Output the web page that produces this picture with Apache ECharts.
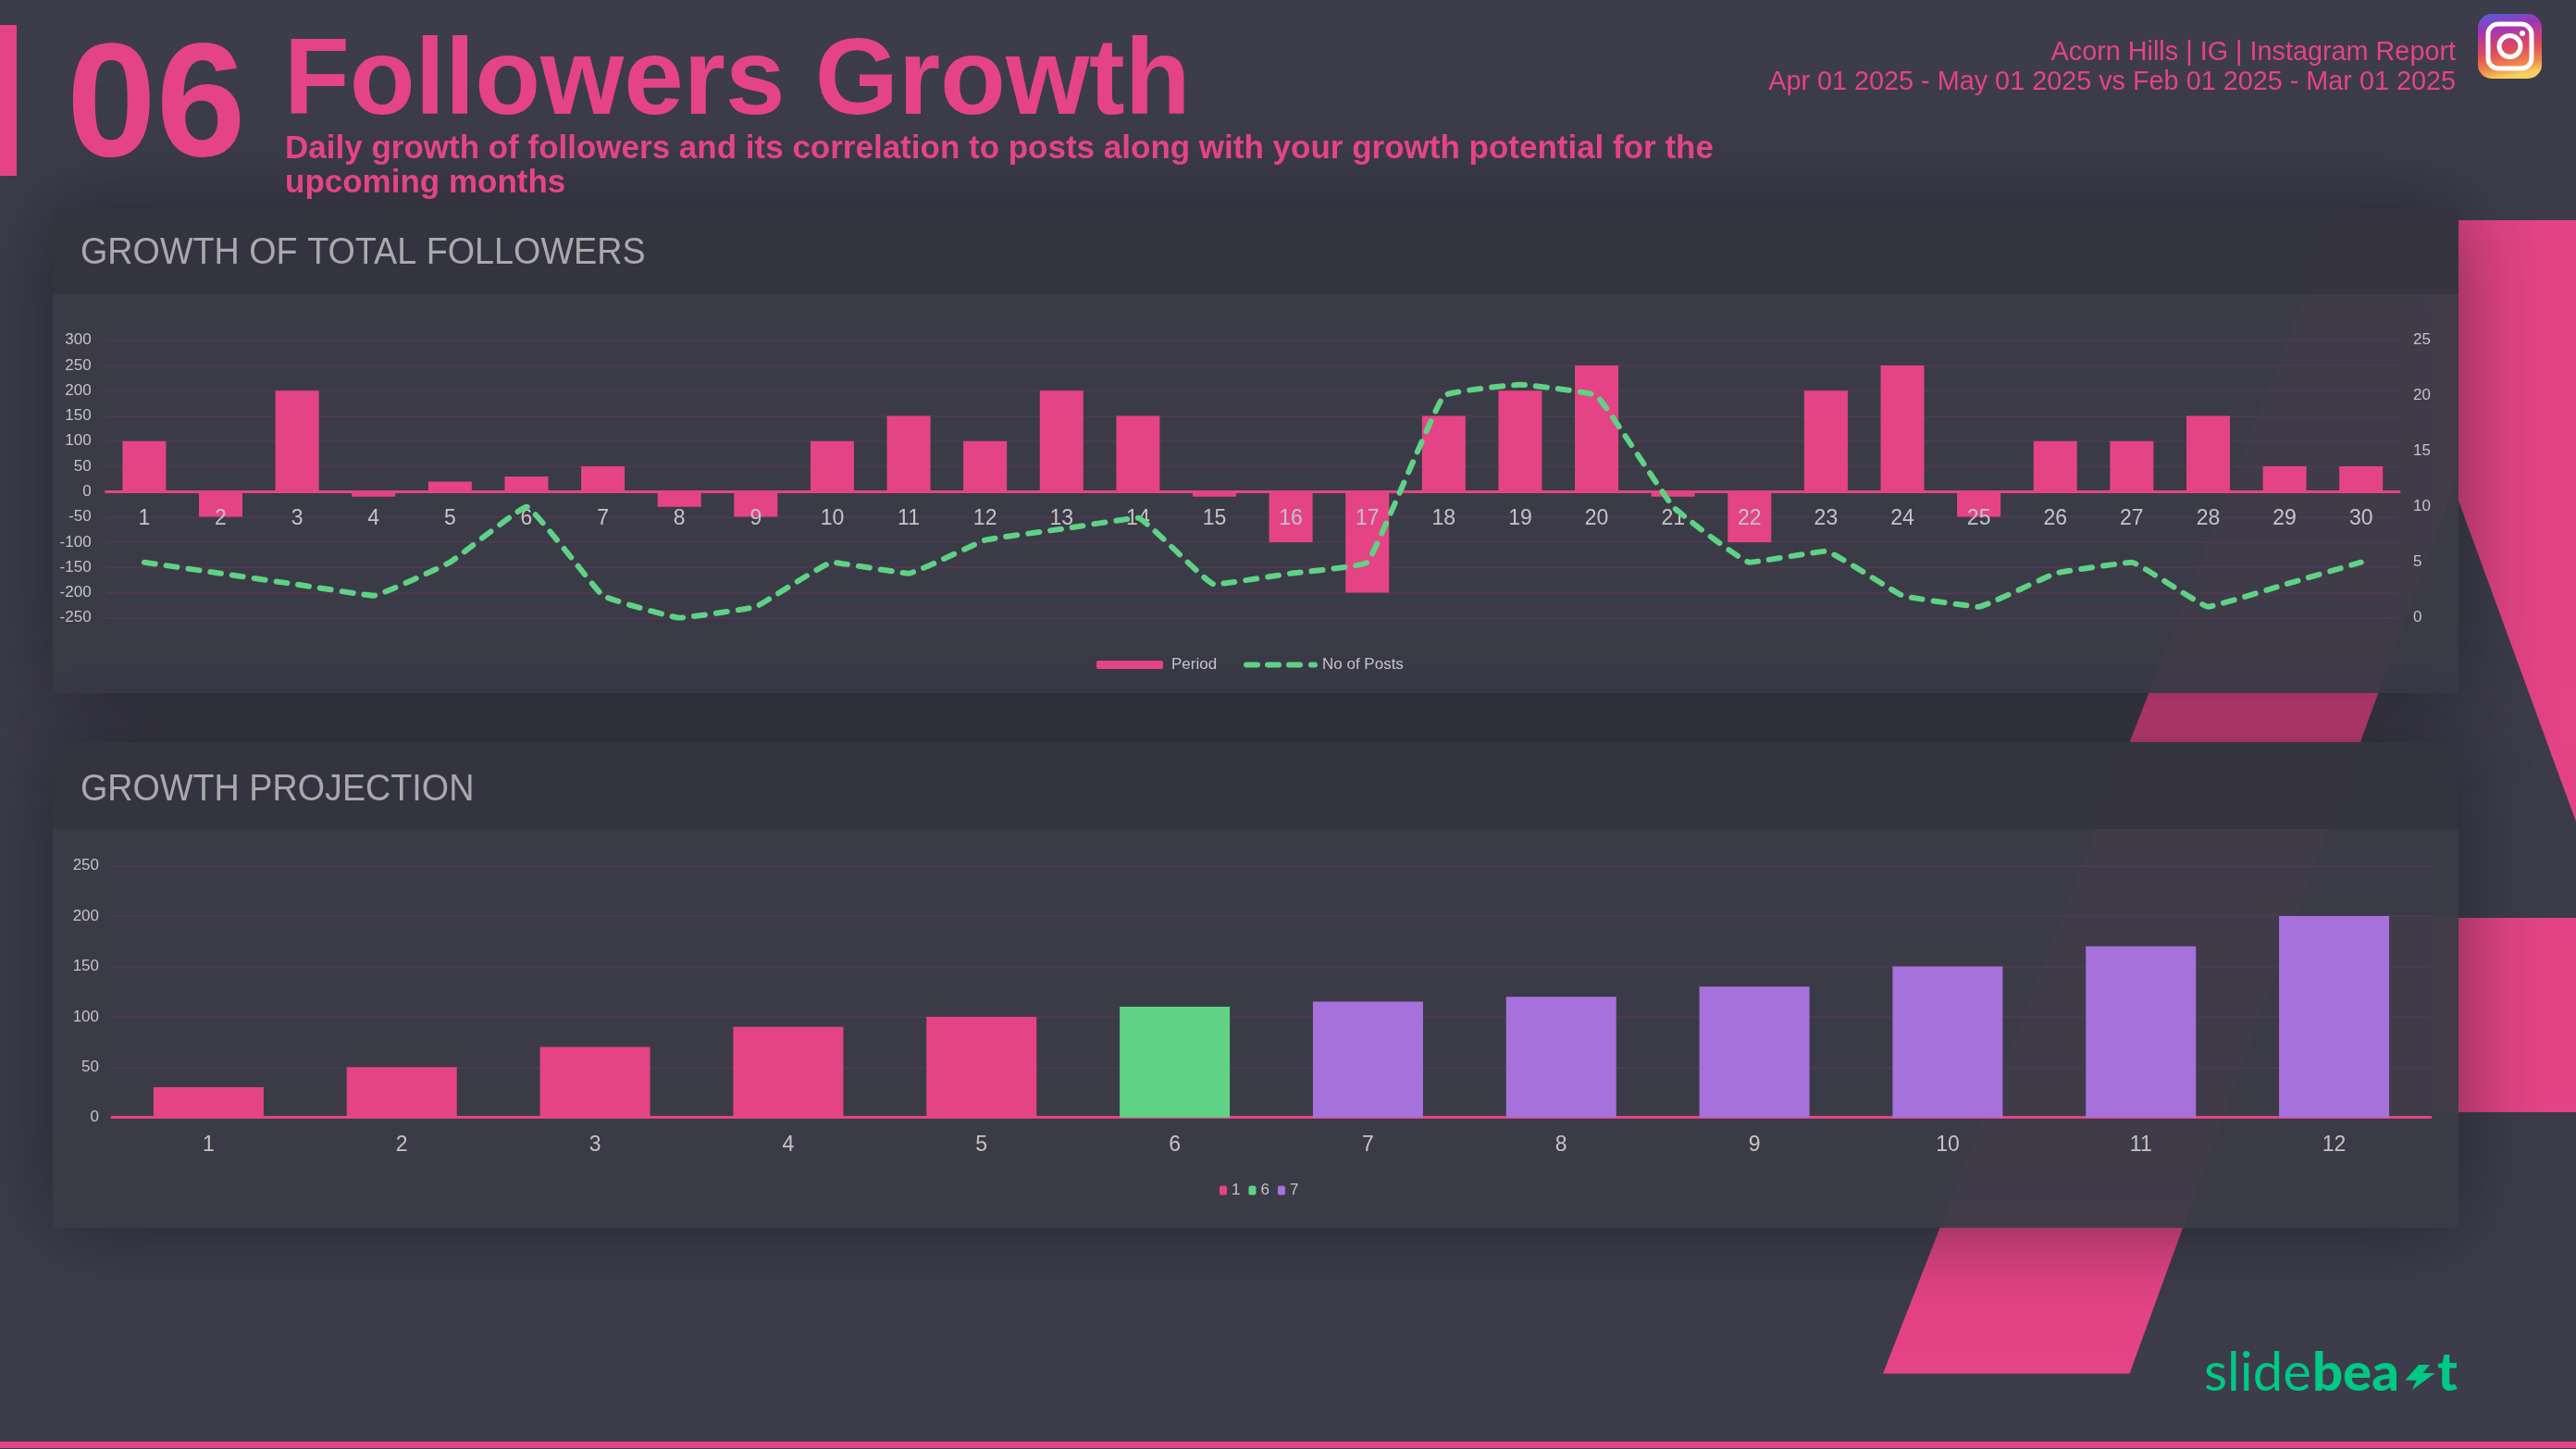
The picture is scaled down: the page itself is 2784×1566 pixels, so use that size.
<!DOCTYPE html>
<html>
<head>
<meta charset="utf-8">
<title>Followers Growth</title>
<style>html,body{margin:0;padding:0;background:#3c3b4a}#c{width:2784px;height:1566px}</style>
<script src="https://cdn.jsdelivr.net/npm/echarts@6/dist/echarts.min.js"></script>
</head>
<body>
<div id="c"></div>
<script>
const days = ['1','2','3','4','5','6','7','8','9','10','11','12','13','14','15','16','17','18','19','20','21','22','23','24','25','26','27','28','29','30'];
const period = [100,-50,200,-10,20,30,50,-30,-50,100,150,100,200,150,-10,-100,-200,150,200,250,-10,-100,200,250,-50,100,100,150,50,50];
const posts = [5,4,3,2,5,10,2,0,1,5,4,7,8,9,3,4,5,20,21,20,10,5,6,2,1,4,5,1,3,5];
const months = ['1','2','3','4','5','6','7','8','9','10','11','12'];
const projection1 = [30,50,70,90,100,null,null,null,null,null,null,null];
const projection6 = [null,null,null,null,null,110,null,null,null,null,null,null];
const projection7 = [null,null,null,null,null,null,115,120,130,150,170,200];

const PINK='#e44485', GREEN='#5fd285', PURPLE='#a771dc', GRID='#4b3a50', LABEL='#c4c4c4', LOGO='#00c985', FONT='"Liberation Sans", Arial, sans-serif';
const txt=(text,x,y,size,fill,weight,align,family)=>({type:'text',silent:true,style:{text,x,y,fill,textAlign:align||'left',textVerticalAlign:'middle',font:(weight||'normal')+' '+size+'px '+(family||FONT)}});
const squeezed=(text,x,y,size,fill,sx)=>Object.assign(txt(text,0,0,size,fill),{x,y,scaleX:sx});
const rect=(x,y,w,h,fill,extra)=>({type:'rect',silent:true,shape:{x,y,width:w,height:h},style:Object.assign({fill},extra||{})});
const poly=(points,fill)=>({type:'polygon',silent:true,shape:{points},style:{fill}});
const shadow={shadowBlur:90,shadowColor:'rgba(20,20,28,0.55)'};

const elements=[
  rect(0,0,2784,1566,'#3d3c4a'),
  poly([[2035,1484.5],[2301.5,1484.5],[2757,238],[2522,238]],PINK),
  poly([[2657,238],[2784,238],[2784,888],[2657,541]],PINK),
  rect(2560,992,224,210,PINK),
  rect(57,225,2600,524,'rgba(60,60,73,0.95)',shadow),
  rect(57,225,2600,93,'rgba(48,48,59,0.62)'),
  rect(57,802,2600,525,'rgba(60,60,73,0.95)',shadow),
  rect(57,802,2600,94,'rgba(48,48,59,0.62)'),
  rect(0,1558,2784,7,PINK),
  rect(0,27,18,163,PINK),
  txt('06',72,120,174,PINK,'bold'),
  txt('Followers Growth',307,91,116,PINK,'bold'),
  txt('Daily growth of followers and its correlation to posts along with your growth potential for the',308,161,35,PINK,'bold'),
  txt('upcoming months',308,198,35,PINK,'bold'),
  txt('Acorn Hills | IG | Instagram Report',2654,57,28.8,PINK,'normal','right'),
  txt('Apr 01 2025 - May 01 2025 vs Feb 01 2025 - Mar 01 2025',2654,89,28.8,PINK,'normal','right'),
  squeezed('GROWTH OF TOTAL FOLLOWERS',87,274,41,'#a9a9ac',0.92),
  squeezed('GROWTH PROJECTION',87,854,41,'#a9a9ac',0.92),
  txt('slide',2382,1484,58,LOGO,'normal','left','Lato, sans-serif'),
  txt('bea',2499,1484,58,LOGO,'900','left','Lato, sans-serif'),
  poly([[2614,1475],[2626,1475],[2618.3,1484],[2631.7,1484],[2606.7,1502.3],[2611.7,1491.7],[2599.3,1491.7]],LOGO),
  txt('t',2634,1484,58,LOGO,'900','left','Lato, sans-serif'),
  {type:'rect',silent:true,shape:{x:2678,y:15,width:69,height:70,r:15},style:{fill:{type:'linear',x:0.1,y:0,x2:0.3,y2:1,colorStops:[{offset:0,color:'#4f62d8'},{offset:0.25,color:'#a233b8'},{offset:0.6,color:'#df4a5c'},{offset:0.85,color:'#ef8a4a'},{offset:1,color:'#f6cf5c'}]}}},
  {type:'rect',silent:true,shape:{x:2689,y:26,width:47,height:48,r:11},style:{fill:'none',stroke:'#fff',lineWidth:5}},
  {type:'circle',silent:true,shape:{cx:2712.5,cy:50,r:11.5},style:{fill:'none',stroke:'#fff',lineWidth:5}},
  {type:'circle',silent:true,shape:{cx:2726,cy:36,r:3},style:{fill:'#fff'}}
];

const splitLine={show:true,lineStyle:{color:GRID,width:2}};
const pinkAxis={show:true,onZero:false,lineStyle:{color:PINK,width:3}};
const axisFont={color:LABEL,fontSize:17,fontFamily:FONT};
const dashedIcon='path://M3,0H15A3,3 0 0 1 15,6H3A3,3 0 0 1 3,0Z M26,0H38A3,3 0 0 1 38,6H26A3,3 0 0 1 26,0Z M49,0H61A3,3 0 0 1 61,6H49A3,3 0 0 1 49,0Z M73,0H77A3,3 0 0 1 77,6H73A3,3 0 0 1 73,0Z';

const option={
  animation:false,
  backgroundColor:'#3d3c4a',
  textStyle:{fontFamily:FONT},
  graphic:{z:-1,elements},
  grid:[
    {left:114.6,right:2784-2593,top:367.7,height:300},
    {left:121,right:2784-2627,top:935.7,height:272}
  ],
  legend:[
    {left:1180,top:705,data:['Period'],itemWidth:72,itemHeight:9,textStyle:{color:LABEL,fontSize:17,padding:[0,0,0,4]}},
    {left:1339,top:705,data:[{name:'No of Posts',icon:dashedIcon}],itemWidth:80,itemHeight:6,textStyle:{color:LABEL,fontSize:17}},
    {left:1313,top:1273,data:['1','6','7'],itemWidth:8,itemHeight:10,itemGap:9,textStyle:{color:LABEL,fontSize:17}}
  ],
  xAxis:[
    {type:'category',gridIndex:0,data:days,z:5,offset:-136.4,axisLine:pinkAxis,axisTick:{show:false},axisLabel:{interval:0,color:LABEL,fontSize:23,margin:18,fontFamily:FONT}},
    {type:'category',gridIndex:1,data:months,axisLine:pinkAxis,axisTick:{show:false},axisLabel:{interval:0,color:LABEL,fontSize:23,margin:18,fontFamily:FONT}}
  ],
  yAxis:[
    {type:'value',gridIndex:0,min:-250,max:300,interval:50,axisLine:{show:false},axisTick:{show:false},splitLine,axisLabel:Object.assign({margin:16},axisFont)},
    {type:'value',gridIndex:0,position:'right',min:0,max:25,interval:5,axisLine:{show:false},axisTick:{show:false},splitLine:{show:false},axisLabel:Object.assign({margin:15},axisFont)},
    {type:'value',gridIndex:1,min:0,max:250,interval:50,axisLine:{show:false},axisTick:{show:false},splitLine,axisLabel:Object.assign({margin:14},axisFont)}
  ],
  series:[
    {name:'Period',type:'bar',xAxisIndex:0,yAxisIndex:0,data:period,barWidth:47,itemStyle:{color:PINK}},
    {name:'No of Posts',type:'line',xAxisIndex:0,yAxisIndex:1,data:posts,z:6,smooth:0.08,symbol:'none',itemStyle:{color:GREEN},lineStyle:{color:GREEN,width:6,type:[12,12],cap:'round'}},
    {name:'1',type:'bar',xAxisIndex:1,yAxisIndex:2,data:projection1,barWidth:119,barGap:'-100%',itemStyle:{color:PINK}},
    {name:'6',type:'bar',xAxisIndex:1,yAxisIndex:2,data:projection6,barWidth:119,barGap:'-100%',itemStyle:{color:GREEN}},
    {name:'7',type:'bar',xAxisIndex:1,yAxisIndex:2,data:projection7,barWidth:119,barGap:'-100%',itemStyle:{color:PURPLE}}
  ]
};
echarts.init(document.getElementById('c')).setOption(option);
</script>
</body>
</html>
